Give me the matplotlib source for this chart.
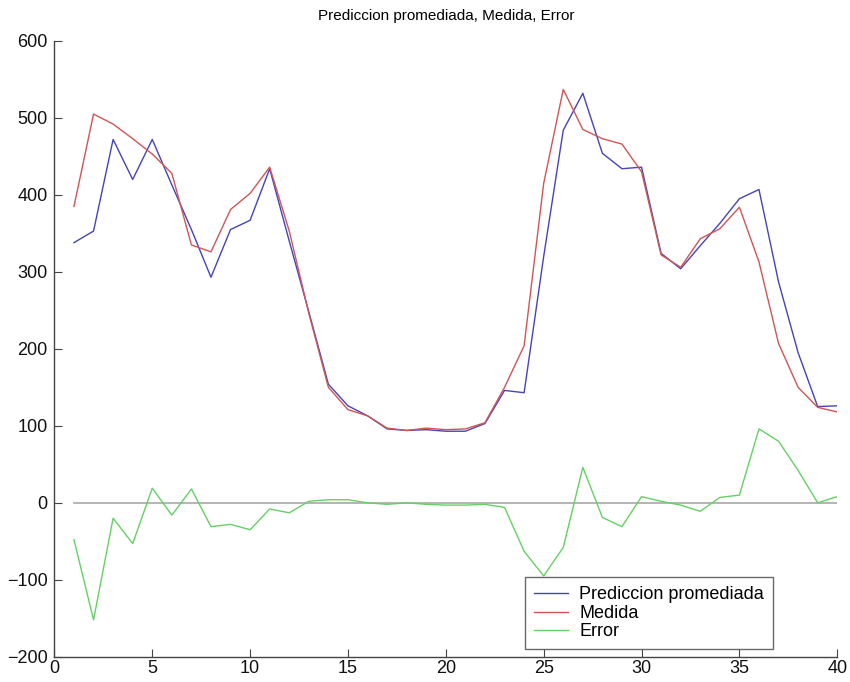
import numpy as np
import matplotlib
matplotlib.use("Agg")
import matplotlib.pyplot as plt

plt.rcParams['font.family'] = ['Liberation Sans', 'DejaVu Sans']

# muestras 1..40
muestra = list(range(1, 41))

prediccion = [338, 353, 472, 420, 472, 413, 355, 293, 355, 367,
              434, 340, 248, 154, 126, 113, 96, 94, 95, 93,
              93, 103, 146, 143, 320, 484, 532, 454, 434, 436,
              324, 304, 334, 363, 395, 407, 287, 195, 125, 126]

medida = [385, 505, 492, 473, 453, 428, 335, 326, 381, 402,
          436, 353, 246, 150, 121, 113, 97, 94, 97, 95,
          96, 104, 150, 204, 415, 537, 485, 473, 466, 430,
          322, 306, 343, 356, 384, 313, 207, 150, 124, 118]

error = [-48, -152, -20, -53, 19, -16, 18, -31, -28, -35,
         -8, -13, 2, 4, 4, 0, -2, 0, -2, -3,
         -3, -2, -6, -63, -95, -58, 46, -19, -31, 8,
         2, -3, -11, 7, 10, 96, 80, 42, 0, 8]

cero = [0] * len(muestra)

fig = plt.figure(figsize=(8.5, 6.82), dpi=100)
ax = fig.add_axes([0.064, 0.037, 0.921, 0.903])

ax.plot(muestra, cero, color='#a8a8a8', linewidth=1.2)
ax.plot(muestra, prediccion, color='#4444b8', linewidth=1.0, label='Prediccion promediada')
ax.plot(muestra, medida, color='#d05555', linewidth=1.0, label='Medida')
ax.plot(muestra, error, color='#66d066', linewidth=1.0, label='Error')

ax.set_xlim(0, 40)
ax.set_ylim(-200, 600)
ax.set_xticks(range(0, 41, 5))
ax.set_yticks(range(-200, 601, 100))
ax.tick_params(direction='in', length=6, labelsize=13, width=0.8, labelcolor='#111111', color='#444444')
ax.tick_params(axis='x', pad=2)
ax.tick_params(axis='y', pad=5)
for s in ['top', 'right']:
    ax.spines[s].set_visible(False)
for s in ['left', 'bottom']:
    ax.spines[s].set_color('#444444')
    ax.spines[s].set_linewidth(1.0)

ax.set_title('Prediccion promediada, Medida, Error', fontsize=11, pad=15)

leg = ax.legend(loc='lower right', bbox_to_anchor=(0.918, 0.012), fontsize=13,
                frameon=True, fancybox=False, handlelength=1.9, handletextpad=0.6,
                borderpad=0.5, labelspacing=0.08, borderaxespad=0)
leg.get_frame().set_edgecolor('#444444')
leg.get_frame().set_linewidth(1.0)

plt.savefig('out.png', dpi=100)
